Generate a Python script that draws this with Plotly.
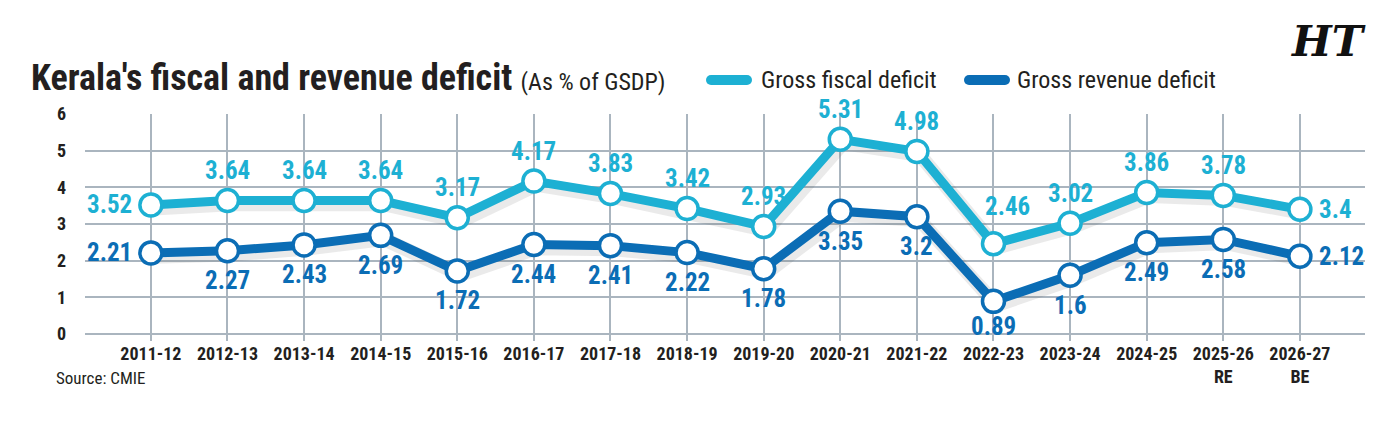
import plotly.graph_objects as go

years = ["2011-12", "2012-13", "2013-14", "2014-15", "2015-16", "2016-17", "2017-18",
         "2018-19", "2019-20", "2020-21", "2021-22", "2022-23", "2023-24", "2024-25",
         "2025-26", "2026-27"]
tick_text = ["2011-12", "2012-13", "2013-14", "2014-15", "2015-16", "2016-17", "2017-18",
             "2018-19", "2019-20", "2020-21", "2021-22", "2022-23", "2023-24", "2024-25",
             "2025-26<br>RE", "2026-27<br>BE"]
fiscal = [3.52, 3.64, 3.64, 3.64, 3.17, 4.17, 3.83, 3.42, 2.93, 5.31, 4.98, 2.46, 3.02, 3.86, 3.78, 3.4]
revenue = [2.21, 2.27, 2.43, 2.69, 1.72, 2.44, 2.41, 2.22, 1.78, 3.35, 3.2, 0.89, 1.6, 2.49, 2.58, 2.12]
fiscal_pos = ["left"] + ["above"] * 10 + ["aboveright"] + ["above"] * 3 + ["right"]
revenue_pos = ["left"] + ["below"] * 10 + ["belowtight"] + ["below"] * 3 + ["right"]

C_FISCAL = "#1db0d3"
C_REV = "#0b6db5"
FONT = "Liberation Sans Narrow, Roboto Condensed, Arial Narrow, Roboto, sans-serif"
x_idx = list(range(len(years)))

fig = go.Figure()
for vals, col in [(fiscal, C_FISCAL), (revenue, C_REV)]:
    fig.add_trace(go.Scatter(x=[i + 0.04 for i in x_idx], y=[v - 0.1 for v in vals], mode="lines",
                             line=dict(color="rgba(80,80,80,0.12)", width=14), hoverinfo="skip",
                             showlegend=False))
    fig.add_trace(go.Scatter(x=x_idx, y=vals, mode="lines+markers",
                             line=dict(color=col, width=9),
                             marker=dict(size=22, color="white", line=dict(color=col, width=3.5)),
                             showlegend=False))

annotations = []
def add_labels(vals, poses, col):
    for i, (v, p) in enumerate(zip(vals, poses)):
        a = dict(x=i, y=v, xref="x", yref="y", text=f"{v:g}", showarrow=False,
                 font=dict(family=FONT, size=25, color=col, weight="bold"))
        if p == "above":
            a.update(yshift=30, yanchor="middle", xanchor="center")
        elif p == "aboveright":
            a.update(yshift=37, xshift=14, yanchor="middle", xanchor="center")
        elif p == "below":
            a.update(yshift=-30, yanchor="middle", xanchor="center")
        elif p == "belowtight":
            a.update(yshift=-25, yanchor="middle", xanchor="center")
        elif p == "left":
            a.update(xshift=-17, xanchor="right", yanchor="middle")
        else:
            a.update(xshift=17, xanchor="left", yanchor="middle")
        annotations.append(a)

add_labels(fiscal, fiscal_pos, C_FISCAL)
add_labels(revenue, revenue_pos, C_REV)

L, R, T, B = 85, 1365, 114, 334
def px(x):
    return (x - L) / (R - L)
def py(y):
    return (B - y) / (B - T)

annotations += [
    dict(x=px(29), y=py(78), xref="paper", yref="paper", xanchor="left", yanchor="middle",
         showarrow=False,
         text="<b>Kerala's fiscal and revenue deficit</b> <span style='font-size:24px'>(As % of GSDP)</span>",
         font=dict(family=FONT, size=36, color="#231f20")),
    dict(x=px(759), y=py(80), xref="paper", yref="paper", xanchor="left", yanchor="middle",
         showarrow=False, text="Gross fiscal deficit",
         font=dict(family=FONT, size=24, color="#231f20")),
    dict(x=px(1015), y=py(80), xref="paper", yref="paper", xanchor="left", yanchor="middle",
         showarrow=False, text="Gross revenue deficit",
         font=dict(family=FONT, size=24, color="#231f20")),
    dict(x=px(54), y=py(378), xref="paper", yref="paper", xanchor="left", yanchor="middle",
         showarrow=False, text="Source: CMIE",
         font=dict(family=FONT, size=17, color="#231f20")),
    dict(x=px(1328), y=py(42), xref="paper", yref="paper", xanchor="center", yanchor="middle",
         showarrow=False, text="<b><i>HT</i></b>",
         font=dict(family="DejaVu Serif, serif", size=42, color="#111111")),
]

shapes = [
    dict(type="line", xref="paper", yref="paper", x0=px(711), x1=px(747), y0=py(80), y1=py(80),
         line=dict(color=C_FISCAL, width=10)),
    dict(type="line", xref="paper", yref="paper", x0=px(969), x1=px(1005), y0=py(80), y1=py(80),
         line=dict(color=C_REV, width=10)),
]
for cx, col in [(711, C_FISCAL), (747, C_FISCAL), (969, C_REV), (1005, C_REV)]:
    shapes.append(dict(type="circle", xref="paper", yref="paper",
                       x0=px(cx - 5), x1=px(cx + 5), y0=py(75), y1=py(85),
                       line=dict(width=0), fillcolor=col))

fig.update_layout(
    width=1392, height=444,
    margin=dict(l=L, r=1392 - R, t=T, b=444 - B),
    paper_bgcolor="white", plot_bgcolor="white",
    annotations=annotations, shapes=shapes,
    showlegend=False,
    xaxis=dict(range=[-0.86, 15.85], tickmode="array", tickvals=x_idx, ticktext=tick_text,
               showgrid=True, gridcolor="#aab5bf", gridwidth=1.5, zeroline=False,
               ticks="outside", ticklen=6, tickcolor="#aab5bf", tickwidth=1.5,
               ticklabelstandoff=-3,
               tickfont=dict(family=FONT, size=18, color="#231f20", weight="bold"),
               showline=False, fixedrange=True),
    yaxis=dict(range=[0, 6], tickvals=[0, 1, 2, 3, 4, 5, 6], showgrid=True,
               gridcolor="#aab5bf", gridwidth=1.5, zeroline=True, zerolinecolor="#aab5bf",
               zerolinewidth=1.5, ticklabelstandoff=18,
               tickfont=dict(family=FONT, size=18, color="#231f20", weight="bold"),
               showline=False, fixedrange=True),
)

fig.write_html("out.html")
